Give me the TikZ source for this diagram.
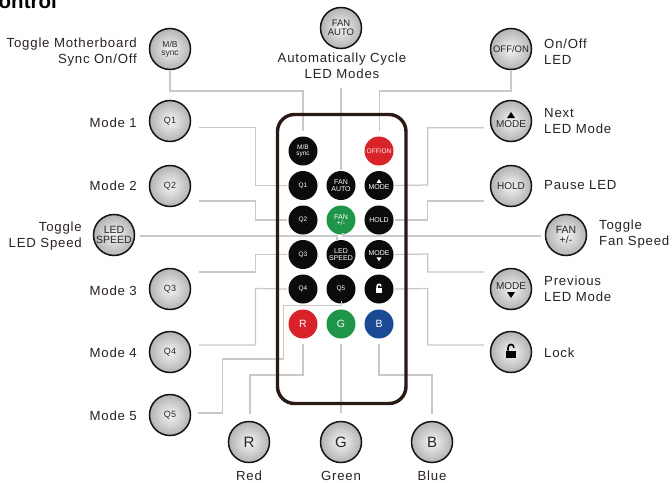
\documentclass[tikz,border=0pt]{standalone}
\usepackage{fontspec}
\setmainfont{Liberation Sans}
\newfontfamily\lblfont[LetterSpace=6]{Liberation Sans}
\definecolor{inkc}{HTML}{2A2220}
\definecolor{framec}{HTML}{2A1A16}
\definecolor{linec}{HTML}{C9C9C9}
\definecolor{redb}{HTML}{D8232A}
\definecolor{greenb}{HTML}{1F9549}
\definecolor{blueb}{HTML}{1B4A94}
\definecolor{blackb}{HTML}{0B0B0B}
\newcommand{\fs}[1]{\fontsize{#1}{#1}\selectfont}
\tikzset{
 big/.style={circle,draw=black!92,line width=1.5pt,minimum size=41pt,inner sep=0pt,align=center,
   inner color=white!96!black,outer color=black!30,text=black!85,font=\fs{9.5}},
 small/.style={circle,fill=#1,minimum size=29pt,inner sep=0pt,outer sep=1.5pt,align=center,text=white,font=\fs{6.5}},
 small/.default=blackb,
 keytext/.style={inner sep=0pt,text=#1},
 lbl/.style={text=inkc,font=\fs{13.2}\lblfont,inner sep=0pt,align=#1},
 lblr/.style={lbl=right,anchor=east},
 lbll/.style={lbl=left,anchor=west},
 lblc/.style={lbl=center,anchor=center},
 conn/.style={draw=linec,line width=1.25pt},
 pics/lockicon/.style={code={
   \fill[#1] (-5,-1.5) rectangle (5,6);
   \draw[#1,line width=1.6pt] (-3,-1.5) -- (-3,-4.2) .. controls (-3,-8.6) and (3,-8.6) .. (3,-4.2);
 }},
 pics/triup/.style={code={\fill[#1] (-4,3) -- (4,3) -- (0,-3) -- cycle;}},
 pics/tridown/.style={code={\fill[#1] (-4,-3) -- (4,-3) -- (0,3) -- cycle;}}
}
\begin{document}
\begin{tikzpicture}[x=1pt,y=-1pt]
\useasboundingbox (0,0) rectangle (672,482);
\clip (0,0) rectangle (672,482);
\fill[white] (0,0) rectangle (672,482);
\node[anchor=base west,inner sep=0pt,text=black,font=\fs{20.5}\bfseries] (title) at (-1.5,8.5) {ontrol};

% large key circles
\node[big,font=\fs{8.5}] (bMB) at (170,49) {M/B\\[-0.5pt]sync};
\node[big,font=\fs{9}] (bQ1) at (170,121) {Q1};
\node[big,font=\fs{9}] (bQ2) at (170,186) {Q2};
\node[big,font=\fs{10.5}] (bLS) at (114,235) {LED\\[-0.5pt]SPEED};
\node[big,font=\fs{9}] (bQ3) at (170,289) {Q3};
\node[big,font=\fs{9}] (bQ4) at (170,352) {Q4};
\node[big,font=\fs{9}] (bQ5) at (170,415) {Q5};
\node[big,font=\fs{15}] (bR) at (249,442) {R};
\node[big,font=\fs{15}] (bG) at (341,442) {G};
\node[big,font=\fs{15}] (bB) at (432,442) {B};
\node[big,font=\fs{9.5}] (bFA) at (341,28) {FAN\\[-0.5pt]AUTO};
\node[big,font=\fs{9.5}] (bOO) at (511,49) {OFF/ON};
\node[big] (bMU) at (511,121) {};
\node[keytext=black!85,font=\fs{10}] (bMUt) at (511,124) {MODE};
\pic at (511,115) {triup=black};
\node[big,font=\fs{10}] (bHD) at (511,186) {HOLD};
\node[big,font=\fs{10.5}] (bFP) at (566,235) {FAN\\[-0.5pt]+/-};
\node[big] (bMD) at (511,289) {};
\node[keytext=black!85,font=\fs{10}] (bMDt) at (511,285.7) {MODE};
\pic at (511,295) {tridown=black};
\node[big] (bLK) at (511,352) {};
\pic at (511,352) {lockicon=black};

% remote keys
\node[small] (sMB) at (303,151) {M/B\\[-0.5pt]sync};
\node[small=redb] (sOO) at (379,151) {OFF/ON};
\node[small] (sQ1) at (303,185.5) {Q1};
\node[small,font=\fs{7}] (sFA) at (341,185.5) {FAN\\[-0.5pt]AUTO};
\node[small] (sMU) at (379,185.5) {};
\node[keytext=white,font=\fs{7}] (sMUt) at (379,187.3) {MODE};
\pic[scale=0.62] at (379,181) {triup=white};
\node[small] (sQ2) at (303,220) {Q2};
\node[small=greenb,font=\fs{7}] (sFP) at (341,220) {FAN\\[-0.5pt]+/-};
\node[small,font=\fs{7}] (sHD) at (379,220) {HOLD};
\node[small] (sQ3) at (303,254.5) {Q3};
\node[small,font=\fs{7}] (sLS) at (341,254.5) {LED\\[-0.5pt]SPEED};
\node[small] (sMD) at (379,254.5) {};
\node[keytext=white,font=\fs{7}] (sMDt) at (379,252.7) {MODE};
\pic[scale=0.62] at (379,259.3) {tridown=white};
\node[small] (sQ4) at (303,289) {Q4};
\node[small] (sQ5) at (341,289) {Q5};
\node[small] (sLK) at (379,289) {};
\pic[scale=0.62] at (379,289) {lockicon=white};
\node[small=redb,font=\fs{10.5}] (sR) at (303,324) {R};
\node[small=greenb,font=\fs{10.5}] (sG) at (341,324) {G};
\node[small=blueb,font=\fs{10.5}] (sB) at (379,324) {B};

% connectors
\draw[conn] (bMB.south) ++(0,1) -- (170,91) -- (303,91) -- (303,131);
\draw[conn] ([shift={(29,6.7)}]bQ1.center) -- (255.5,127.7) -- (255.5,185.5) -- (sQ1.west);
\draw[conn] ([shift={(29,15)}]bQ2.center) -- (255.5,201) -- (255.5,220) -- (sQ2.west);
\draw[conn] ([shift={(26,1)}]bLS.center) -- (337,236) -- (337,241);
\draw[conn] ([shift={(-25,1)}]bFP.center) -- (343,236) -- (343,232.5);
\draw[conn] ([shift={(29,-17)}]bQ3.center) -- (255.5,272) -- (255.5,254.5) -- (sQ3.west);
\draw[conn] ([shift={(29,-7)}]bQ4.center) -- (255.5,345) -- (255.5,288.5) -- (sQ4.west);
\draw[conn] ([shift={(28,-2)}]bQ5.center) -- (222.7,413) -- (222.7,359) -- (283.3,359) -- (283.3,305.7) -- (341.5,305.7) -- (341.5,301);
\draw[conn] (sR.south) ++(0,4) -- (303,375) -- (250,375) -- (250,414);
\draw[conn] (sG.south) ++(0,4) -- (341,413);
\draw[conn] (sB.south) ++(0,4) -- (379,375) -- (432,375) -- (432,414);
\draw[conn] (bFA.south) ++(0,39) -- (sFA.north);
\draw[conn] (bOO.south) ++(0,1) -- (511,91) -- (379.5,91) -- (379.5,131);
\draw[conn] ([shift={(-27,6.7)}]bMU.center) -- (427.7,127.7) -- (427.7,185) -- (sMU.east);
\draw[conn] ([shift={(-27,15)}]bHD.center) -- (427.7,201) -- (427.7,220) -- (sHD.east);
\draw[conn] (sMD.east) -- (427.7,254) -- (427.7,272) -- ([shift={(-27,-17)}]bMD.center);
\draw[conn] (sLK.east) -- (427.7,288.5) -- (427.7,345) -- ([shift={(-27,-7)}]bLK.center);

% remote outline
\draw[framec,line width=3.4pt,rounded corners=17pt] (277.5,114.5) rectangle (406,403.5);

% labels
\node[lblr] (t1) at (137,52) {Toggle Motherboard\\[3pt]Sync On/Off};
\node[lblr] (t2) at (137,122.5) {Mode 1};
\node[lblr] (t3) at (137,185.5) {Mode 2};
\node[lblr] (t4) at (82,236) {Toggle\\[3pt]LED Speed};
\node[lblr] (t5) at (137,290.5) {Mode 3};
\node[lblr] (t6) at (137,353) {Mode 4};
\node[lblr] (t7) at (137,416) {Mode 5};
\node[lblc] (t8) at (342,65.5) {Automatically Cycle\\[3pt]LED Modes};
\node[lbll] (t9) at (544,52) {On/Off\\[3pt]LED};
\node[lbll] (t10) at (544,121) {Next\\[3pt]LED Mode};
\node[lbll] (t11) at (544,185.5) {Pause LED};
\node[lbll] (t12) at (599,234) {Toggle\\[3pt]Fan Speed};
\node[lbll] (t13) at (544,288.5) {Previous\\[3pt]LED Mode};
\node[lbll] (t14) at (544,353) {Lock};
\node[lblc] (t15) at (249,476) {Red};
\node[lblc] (t16) at (341,476) {Green};
\node[lblc] (t17) at (432,476) {Blue};
\end{tikzpicture}
\end{document}
